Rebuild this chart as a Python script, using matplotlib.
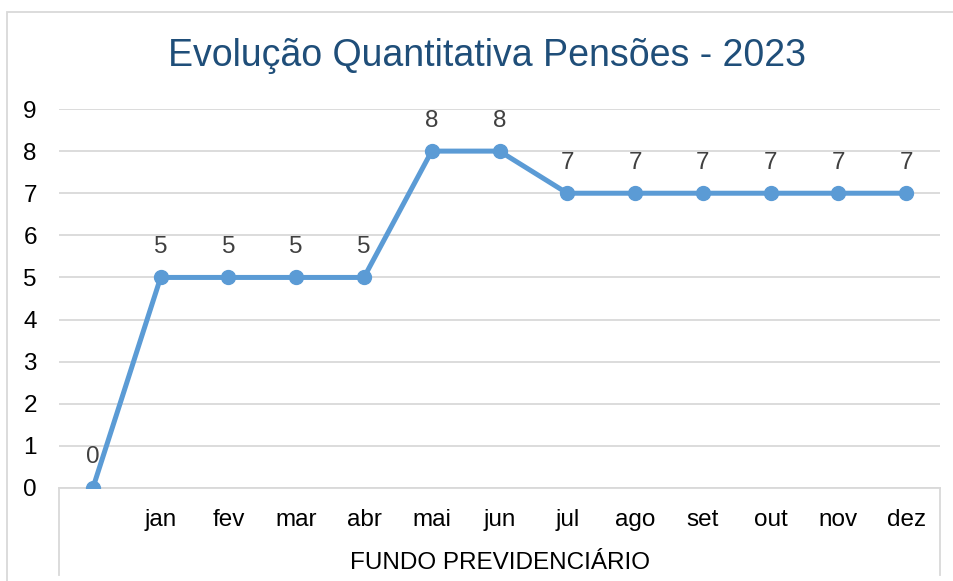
import matplotlib.pyplot as plt
from matplotlib.patches import Rectangle

plt.rcParams['font.family'] = ['Liberation Sans', 'DejaVu Sans']

meses = ['', 'jan', 'fev', 'mar', 'abr', 'mai', 'jun', 'jul', 'ago', 'set', 'out', 'nov', 'dez']
pensoes = [0, 5, 5, 5, 5, 8, 8, 7, 7, 7, 7, 7, 7]
y_ticks = list(range(0, 10))

grid_col = '#D9D9D9'
line_col = '#5B9BD5'
fs = 17.5

fig = plt.figure(figsize=(9.54, 5.81), dpi=100)
ax = fig.add_axes([59/954, 93/581, 881/954, 379/581])

x = list(range(len(meses)))
ax.plot(x, pensoes, color=line_col, linewidth=3.6, marker='o', markersize=10, zorder=3)

for xi, v in zip(x, pensoes):
    ax.annotate(str(v), (xi, v), xytext=(0, 22), textcoords='offset points',
                ha='center', va='center', fontsize=fs, color='#404040')

ax.set_xlim(-0.5, len(meses) - 0.5)
ax.set_ylim(0, 9)
ax.set_yticks(y_ticks)
ax.set_xticks(x)
ax.set_xticklabels(meses)
ax.yaxis.grid(True, color=grid_col, linewidth=1.3)
ax.set_axisbelow(True)
for s in ['left', 'right', 'top']:
    ax.spines[s].set_visible(False)
ax.spines['bottom'].set_color(grid_col)
ax.spines['bottom'].set_linewidth(1.3)
ax.tick_params(axis='both', length=0, labelsize=fs, colors='black')
ax.tick_params(axis='y', pad=16)
ax.tick_params(axis='x', pad=15)

# caixa do eixo de categorias
for xb in [0, 1]:
    ax.plot([xb, xb], [0, -87/379], transform=ax.transAxes, color=grid_col,
            linewidth=1.3, clip_on=False)

ax.text(0.5, -75/379, 'FUNDO PREVIDENCIÁRIO', transform=ax.transAxes,
        ha='center', va='center', fontsize=fs)

fig.text(487/954, 1 - 56/581, 'Evolução Quantitativa Pensões - 2023',
         ha='center', va='center', fontsize=27, color='#1F4E79')

fig.patches.append(Rectangle((7/954, -0.1), 1.2, 1.1 - 12/581, transform=fig.transFigure,
                             fill=False, edgecolor=grid_col, linewidth=1.3))

fig.savefig('out.png', dpi=100)
